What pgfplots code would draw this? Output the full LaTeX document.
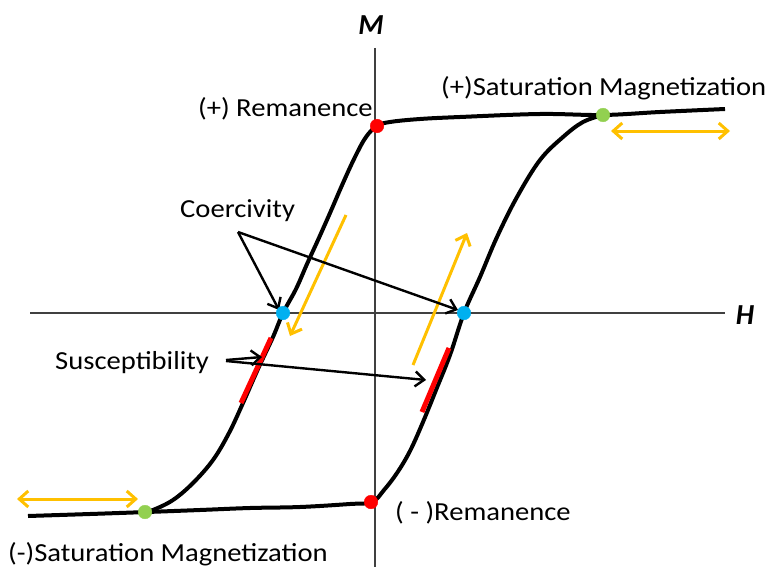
\documentclass[border=0pt]{standalone}
\usepackage{pgfplots}
\pgfplotsset{compat=1.18}
\usepackage{fontspec}
\setmainfont{Carlito}
\newfontfamily\lab[FakeStretch=1.1]{Carlito}
\usetikzlibrary{arrows.meta}
\definecolor{cOrange}{HTML}{FFC000}
\definecolor{cGreen}{HTML}{92D050}
\definecolor{cBlue}{HTML}{00B0F0}
\definecolor{cRed}{HTML}{FF0000}
\tikzset{lbl/.style={font={\lab\fontsize{26bp}{30bp}\selectfont}, inner sep=0pt, anchor=base west},
  axl/.style={font={\bfseries\itshape\fontsize{29bp}{33bp}\selectfont}, inner sep=0pt}}
\begin{document}
\begin{tikzpicture}
\begin{axis}[
  width=767bp, height=567bp, scale only axis,
  xmin=0, xmax=767, ymin=0, ymax=567, y dir=reverse,
  hide axis, clip=false,
]
% axes
\addplot[black!75, line width=1.6bp] coordinates {(375,48) (375,567)};
\addplot[black!75, line width=1.6bp] coordinates {(30,313) (725,313)};
% descending branch (upper flat + left curve)
\addplot[black, line width=4bp, smooth, tension=0.6] coordinates {
 (725,109) (660,112) (603,115) (540,114) (460,117) (420,119) (390,122) (377,126)
 (366,137) (355,157) (343,183) (330,213) (318,240) (307,264) (296,289)
 (283,313) (273,337) (258,369) (243,403) (229,433) (213,460) (193,483)
 (173,500) (153,510) (144,512)};
% ascending branch (lower flat + right curve)
\addplot[black, line width=4bp, smooth, tension=0.6] coordinates {
 (28,516) (90,514) (147,512) (200,510) (250,508) (300,507) (350,504) (372,502)
 (384,490) (397,473) (410,451) (423,422) (436,390) (450,355)
 (464,313) (480,277) (497,237) (517,197) (540,160) (563,137) (583,122) (603,115)};
% susceptibility segments
\addplot[cRed, line width=5bp] coordinates {(271,338) (241,403)};
\addplot[cRed, line width=5bp] coordinates {(449,348) (422,412)};
% orange arrows
\addplot[cOrange, line width=3bp, {Straight Barb[length=9bp,width=16bp,line width=3bp]}-{Straight Barb[length=9bp,width=16bp,line width=3bp]}] coordinates {(611,131) (730,131)};
\addplot[cOrange, line width=3bp, {Straight Barb[length=9bp,width=16bp,line width=3bp]}-{Straight Barb[length=9bp,width=16bp,line width=3bp]}] coordinates {(17,499) (138,499)};
\addplot[cOrange, line width=3bp, -{Straight Barb[length=9bp,width=16bp,line width=3bp]}] coordinates {(346,215) (290,336)};
\addplot[cOrange, line width=3bp, -{Straight Barb[length=9bp,width=16bp,line width=3bp]}] coordinates {(413,365) (467,233)};
% black arrows
\addplot[black, line width=2.4bp, -{Straight Barb[length=9bp,width=15bp,line width=2.4bp]}] coordinates {(238,232) (279,310)};
\addplot[black, line width=2.4bp, -{Straight Barb[length=9bp,width=15bp,line width=2.4bp]}] coordinates {(238,232) (458,310)};
\addplot[black, line width=2.4bp, -{Straight Barb[length=9bp,width=15bp,line width=2.4bp]}] coordinates {(226,360) (262,357)};
\addplot[black, line width=2.4bp, -{Straight Barb[length=9bp,width=15bp,line width=2.4bp]}] coordinates {(226,361) (426,380)};
% dots
\addplot[only marks, mark=*, mark size=6.8bp, cRed, mark options={draw=cRed}] coordinates {(377,126) (371,502)};
\addplot[only marks, mark=*, mark size=6.8bp, cGreen, mark options={draw=cGreen}] coordinates {(603,115) (145,512)};
\addplot[only marks, mark=*, mark size=6.8bp, cBlue, mark options={draw=cBlue}] coordinates {(283,313) (464,313)};
% labels
\node[lbl] at (axis cs:198,117) {(+) Remanence};
\node[lbl] at (axis cs:441,96) {(+)Saturation Magnetization};
\node[lbl] at (axis cs:180,217) {Coercivity};
\node[lbl] at (axis cs:55,369) {Susceptibility};
\node[lbl] at (axis cs:395,520) {( - )Remanence};
\node[lbl] at (axis cs:8,561) {(-)Saturation Magnetization};
\node[axl] at (axis cs:371,25) {M};
\node[axl] at (axis cs:745,315) {H};
\coordinate (tl) at (axis cs:0,0);
\coordinate (br) at (axis cs:767,567);
\end{axis}
\pgfresetboundingbox
\path (tl) rectangle (br);
\end{tikzpicture}
\end{document}
